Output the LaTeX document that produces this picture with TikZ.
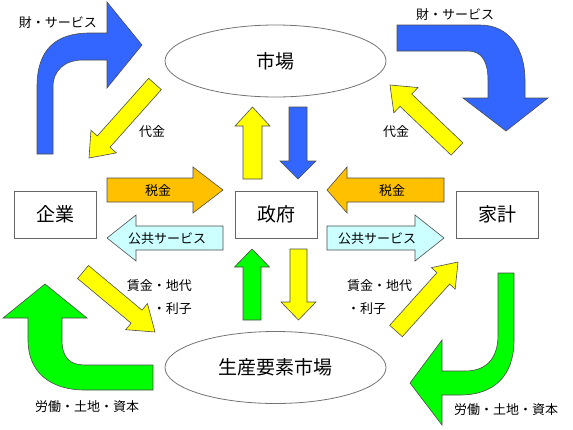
\documentclass[tikz,border=0pt]{standalone}
\usepackage{fontspec}
\setmainfont{Noto Sans CJK JP}
\usetikzlibrary{calc,shapes.geometric}

\definecolor{flowblue}{RGB}{51,102,255}
\definecolor{flowyellow}{RGB}{255,255,0}
\definecolor{flowgreen}{RGB}{0,255,0}
\definecolor{taxorange}{RGB}{255,192,0}
\definecolor{servcyan}{RGB}{204,255,255}

% block arrow: style, tail, tip, half shaft, half head, head length
\newcommand{\blockarrow}[6]{%
  \coordinate (ba) at ($(#3)!#6!(#2)$);
  \draw[flow,#1] ($(#2)!#4!90:(#3)$) -- ($(ba)!#4!-90:(#2)$) -- ($(ba)!#5!-90:(#2)$) -- (#3)
    -- ($(ba)!#5!90:(#2)$) -- ($(ba)!#4!90:(#2)$) -- ($(#2)!#4!-90:(#3)$) -- cycle;}

\begin{document}
\begin{tikzpicture}[x=1pt, y=-1pt,
    box/.style={draw=black!60, line width=0.8pt, minimum width=82pt, minimum height=47pt, font=\fontsize{19}{19}\selectfont},
    market/.style={ellipse, draw=black!55, line width=0.8pt, minimum width=221pt, minimum height=72pt, font=\fontsize{19}{19}\selectfont},
    lbl/.style={font=\fontsize{13}{23}\selectfont, inner sep=0pt},
    flow/.style={draw=black!70, line width=0.6pt, line join=miter}]
  \useasboundingbox (0,0) rectangle (573,429);

  % markets and actors
  \node[market] (goods) at (275.5,61) {市場};
  \node[market] (factor) at (275.5,367.5) {生産要素市場};
  \node[box] (firm) at (55,214.5) {企業};
  \node[box] (gov) at (276,214.5) {政府};
  \node[box] (home) at (497,214.5) {家計};

  % curved flows
  \draw[flow, fill=flowblue] (37,154) -- (37,87) .. controls (37,50) and (55,33) .. (90,33) -- (107,33) -- (107,2)
    -- (142,45) -- (107,88) -- (107,60) -- (83,60) .. controls (65,60) and (53,70) .. (53,87) -- (53,154) -- cycle;
  \draw[flow, fill=flowblue] (397,25) -- (480,25) .. controls (510,25) and (525,50) .. (525,80) -- (525,98) -- (548,98)
    -- (506,131) -- (463,98) -- (488,98) -- (488,80) .. controls (488,62) and (482,51) .. (468,51) -- (397,51) -- cycle;
  \draw[flow, fill=flowgreen] (153,365) -- (85,365) .. controls (70,365) and (62,358) .. (62,340) -- (62,318) -- (87,318)
    -- (45,284) -- (3,318) -- (28,318) -- (28,340) .. controls (28,372) and (50,390) .. (85,390) -- (153,390) -- cycle;
  \draw[flow, fill=flowgreen] (498,273) -- (514,273) -- (514,340) .. controls (514,375) and (495,395) .. (460,395) -- (442,395)
    -- (442,425) -- (410,383) -- (442,340) -- (442,371) -- (465,371) .. controls (485,371) and (498,360) .. (498,335) -- cycle;

  % straight flows
  \coordinate (taxL-s) at (107,190);  \coordinate (taxL-e) at (223,190);
  \coordinate (taxR-s) at (444,190);  \coordinate (taxR-e) at (327,190);
  \coordinate (pubL-s) at (223,238);  \coordinate (pubL-e) at (107,238);
  \coordinate (pubR-s) at (327,238);  \coordinate (pubR-e) at (444,238);
  \coordinate (payU-s) at (252.5,179); \coordinate (payU-e) at (252.5,107);
  \coordinate (goodsD-s) at (298,107); \coordinate (goodsD-e) at (298,179);
  \coordinate (facU-s) at (252,320);  \coordinate (facU-e) at (252,249);
  \coordinate (incD-s) at (298.5,249); \coordinate (incD-e) at (298.5,320);
  \coordinate (payL-s) at (155,84);   \coordinate (payL-e) at (89,158);
  \coordinate (payR-s) at (457,149);  \coordinate (payR-e) at (390,85);
  \coordinate (incL-s) at (83,272);   \coordinate (incL-e) at (155,332);
  \coordinate (incR-s) at (396,331);  \coordinate (incR-e) at (458,262);

  \blockarrow{fill=taxorange}{taxL-s}{taxL-e}{12pt}{23pt}{30pt}
  \blockarrow{fill=taxorange}{taxR-s}{taxR-e}{12pt}{23pt}{20pt}
  \blockarrow{fill=servcyan}{pubL-s}{pubL-e}{12pt}{23pt}{29pt}
  \blockarrow{fill=servcyan}{pubR-s}{pubR-e}{12pt}{23pt}{29pt}
  \blockarrow{fill=flowyellow}{payU-s}{payU-e}{9.5pt}{17.5pt}{19pt}
  \blockarrow{fill=flowblue}{goodsD-s}{goodsD-e}{9pt}{18pt}{18pt}
  \blockarrow{fill=flowgreen}{facU-s}{facU-e}{9pt}{17.5pt}{18pt}
  \blockarrow{fill=flowyellow}{incD-s}{incD-e}{8.5pt}{17.5pt}{18pt}
  \blockarrow{fill=flowyellow}{payL-s}{payL-e}{8.5pt}{17pt}{22pt}
  \blockarrow{fill=flowyellow}{payR-s}{payR-e}{8.5pt}{17.5pt}{22pt}
  \blockarrow{fill=flowyellow}{incL-s}{incL-e}{8.5pt}{17pt}{24pt}
  \blockarrow{fill=flowyellow}{incR-s}{incR-e}{8.5pt}{16pt}{22pt}

  % labels
  \node[lbl] (taxL) at (158,191) {税金};
  \node[lbl] (taxR) at (392,191) {税金};
  \node[lbl] (pubL) at (167,239) {公共サービス};
  \node[lbl] (pubR) at (377,239) {公共サービス};
  \node[lbl] (goodsL) at (58,23) {財・サービス};
  \node[lbl] (goodsR) at (455,15) {財・サービス};
  \node[lbl] (payL) at (152,132) {代金};
  \node[lbl] (payR) at (396,132) {代金};
  \node[lbl, align=right, anchor=east] (incL) at (192,297) {賃金・地代\\・利子};
  \node[lbl, align=left, anchor=west] (incR) at (347,297) {賃金・地代\\・利子};
  \node[lbl] (labL) at (87,407) {労働・土地・資本};
  \node[lbl] (labR) at (506,410) {労働・土地・資本};
\end{tikzpicture}
\end{document}
